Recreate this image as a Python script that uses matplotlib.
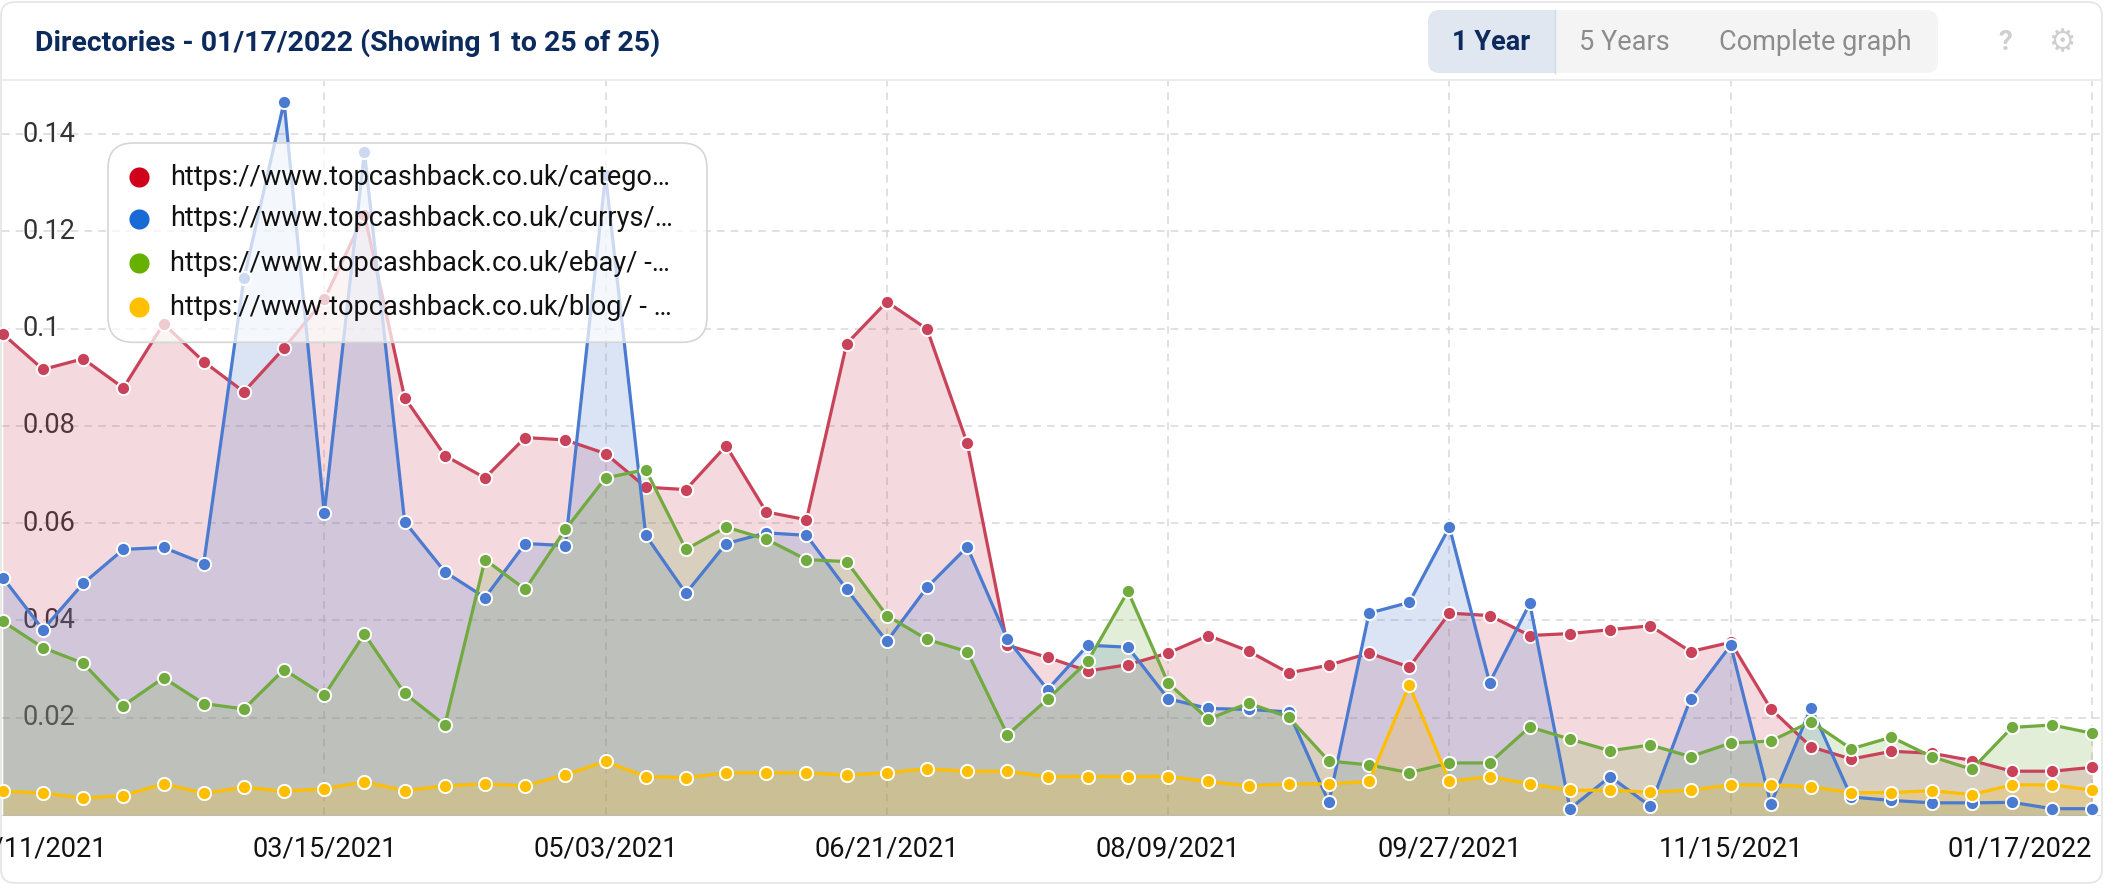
import numpy as np
import matplotlib.pyplot as plt
from matplotlib.patches import FancyBboxPatch, Rectangle
from matplotlib.lines import Line2D
from matplotlib.transforms import IdentityTransform, blended_transform_factory

plt.rcParams["font.family"] = ["Roboto", "DejaVu Sans"]

# weekly share values per directory (53 weeks)
red_vals = [0.0989, 0.0916, 0.0938, 0.0878, 0.101, 0.0932, 0.0870, 0.096, 0.106, 0.1234, 0.0858, 0.0739, 0.0693, 0.0776,
            0.0771, 0.0743, 0.0674, 0.0669, 0.0759, 0.0623, 0.0607, 0.0969, 0.1055, 0.0999, 0.0764, 0.0349, 0.0324,
            0.0296, 0.0309, 0.0333, 0.0369, 0.0337, 0.0292, 0.0308, 0.0333, 0.0304, 0.0415, 0.041, 0.0369, 0.0373,
            0.0381, 0.0389, 0.0336, 0.0355, 0.0218, 0.014, 0.0115, 0.0131, 0.0127, 0.0112, 0.009, 0.009, 0.0098]
blue_vals = [0.0488, 0.0381, 0.0476, 0.0546, 0.055, 0.0517, 0.1103, 0.1466, 0.0621, 0.1363, 0.0603, 0.0500, 0.0447, 0.0558,
             0.0554, 0.1316, 0.0575, 0.0456, 0.0558, 0.058, 0.0575, 0.0464, 0.0357, 0.0468, 0.0551, 0.0361, 0.0258,
             0.0349, 0.0345, 0.0239, 0.0219, 0.0217, 0.0212, 0.0026, 0.0415, 0.0437, 0.0592, 0.0272, 0.0435, 0.0013,
             0.0079, 0.0018, 0.0239, 0.0349, 0.0023, 0.0221, 0.0037, 0.003, 0.0025, 0.0025, 0.0026, 0.0013, 0.0013]
green_vals = [0.0398, 0.0344, 0.0312, 0.0225, 0.0282, 0.0229, 0.0218, 0.0299, 0.0246, 0.0372, 0.0250, 0.0185, 0.0525, 0.0464,
              0.0587, 0.0693, 0.071, 0.0546, 0.0592, 0.0567, 0.0525, 0.0521, 0.041, 0.0361, 0.0336, 0.0165, 0.0238,
              0.0316, 0.046, 0.0271, 0.0197, 0.023, 0.0201, 0.0111, 0.0103, 0.0087, 0.0107, 0.0107, 0.0181, 0.0156,
              0.0132, 0.0144, 0.012, 0.0148, 0.0152, 0.0192, 0.0136, 0.016, 0.012, 0.0094, 0.018, 0.0185, 0.0168]
yellow_vals = [0.0049, 0.0045, 0.0035, 0.004, 0.0064, 0.0045, 0.0057, 0.0049, 0.0054, 0.0068, 0.005, 0.006, 0.0064, 0.006,
               0.0083, 0.011, 0.0079, 0.0077, 0.0087, 0.0087, 0.0087, 0.0082, 0.0087, 0.0095, 0.009, 0.009, 0.0079,
               0.0079, 0.0079, 0.0079, 0.0069, 0.006, 0.0064, 0.0064, 0.0069, 0.0267, 0.0069, 0.0079, 0.0064, 0.0051,
               0.0051, 0.0047, 0.0051, 0.0062, 0.0062, 0.0058, 0.0046, 0.0046, 0.005, 0.0042, 0.0062, 0.0062, 0.0051]

series_labels = [
    "https://www.topcashback.co.uk/catego…",
    "https://www.topcashback.co.uk/currys/…",
    "https://www.topcashback.co.uk/ebay/ -…",
    "https://www.topcashback.co.uk/blog/ - …",
]
line_colors = ["#c8435a", "#4a7bd0", "#71ab3f", "#ffbe00"]
legend_colors = ["#d0021b", "#1a6ad6", "#66b000", "#ffc000"]

tick_pos = [0, 8, 15, 22, 29, 36, 43, 52]
tick_labels = ["01/11/2021", "03/15/2021", "05/03/2021", "06/21/2021",
               "08/09/2021", "09/27/2021", "11/15/2021", "01/17/2022"]
y_ticks = [0.02, 0.04, 0.06, 0.08, 0.10, 0.12, 0.14]
y_tick_labels = ["0.02", "0.04", "0.06", "0.08", "0.1", "0.12", "0.14"]

W, H = 2104, 884
fig = plt.figure(figsize=(W / 100, H / 100), dpi=100)
px = IdentityTransform()

# card frame + header
fig.patches.append(FancyBboxPatch((1, 1), W - 3, H - 3, boxstyle="round,pad=0,rounding_size=14",
                                  fc="none", ec="#e4e4e4", lw=1.2, transform=px, zorder=-1))
fig.add_artist(Line2D([2, W - 3], [H - 80, H - 80], color="#ececec", lw=1.5, transform=px))
fig.text(35 / W, 1 - 43 / H, "Directories - 01/17/2022 (Showing 1 to 25 of 25)", fontsize=20.5,
         fontweight="bold", color="#0d2a5c", ha="left", va="center")

# period buttons
fig.patches.append(FancyBboxPatch((1428, H - 73), 510, 63, boxstyle="round,pad=0,rounding_size=12",
                                  fc="#f4f4f4", ec="none", transform=px))
fig.patches.append(FancyBboxPatch((1428, H - 73), 127, 63, boxstyle="round,pad=0,rounding_size=12",
                                  fc="#e0e7f1", ec="none", transform=px))
fig.patches.append(Rectangle((1520, H - 73), 35, 63, fc="#e0e7f1", ec="none", transform=px))
fig.add_artist(Line2D([1555, 1555], [H - 73, H - 10], color="#d3dbe6", lw=1, transform=px))
fig.text(1491 / W, 1 - 43 / H, "1 Year", fontsize=19.5, fontweight="bold", color="#0d2a5c", ha="center", va="center")
fig.text(1624 / W, 1 - 43 / H, "5 Years", fontsize=19.5, color="#8c8c8c", ha="center", va="center")
fig.text(1815 / W, 1 - 43 / H, "Complete graph", fontsize=19.5, color="#8c8c8c", ha="center", va="center")
fig.text(2005 / W, 1 - 43 / H, "?", fontsize=20, fontweight="bold", color="#cfcfcf", ha="center", va="center")
fig.text(2062 / W, 1 - 43 / H, "\u2699", fontsize=22, color="#cfcfcf", ha="center", va="center",
         family="DejaVu Sans")

# plot area
ax = fig.add_axes([2 / W, (H - 815) / H, 2098 / W, 734 / H])
ax.set_facecolor("none")
x = np.arange(len(red_vals))
ax.set_xlim(-0.02, 52.19)
ax.set_ylim(0, 0.1509)

all_vals = [red_vals, blue_vals, green_vals, yellow_vals]
for k, (vals, col) in enumerate(zip(all_vals, line_colors)):
    # areas stacked in series order, lines/markers kept above every area
    ax.fill_between(x, vals, 0, color=col, alpha=0.2, lw=0, zorder=3 + k)
    ax.plot(x, vals, color=col, lw=2.3, marker="o", ms=9.5, mfc=col, mec="white", mew=1.4,
            zorder=10 + k, clip_on=False)

ax.set_yticks(y_ticks)
ax.set_xticks(tick_pos[1:])
ax.grid(True, color="#d9d9d9", lw=1.1, linestyle=(0, (5, 4)), zorder=1)
ax.tick_params(left=False, bottom=False, labelleft=False, labelbottom=False)
for s in ["top", "right", "left"]:
    ax.spines[s].set_visible(False)
ax.spines["bottom"].set_color("#ccd6eb")
ax.spines["bottom"].set_zorder(2)

ytr = blended_transform_factory(ax.transAxes, ax.transData)
for v, lab in zip(y_ticks, y_tick_labels):
    ax.text(0.010, v, lab, transform=ytr, fontsize=19.5, color="#333333", ha="left", va="center", zorder=2)

xtr = blended_transform_factory(ax.transData, ax.transAxes)
for i, (p, lab) in enumerate(zip(tick_pos, tick_labels)):
    if i == 0:
        ax.text(2.6, -0.047, lab, transform=xtr, fontsize=19.5, color="#111111", ha="right", va="center",
                clip_on=False)
    elif i == len(tick_pos) - 1:
        ax.text(p, -0.047, lab, transform=xtr, fontsize=19.5, color="#111111", ha="right", va="center",
                clip_on=False)
    else:
        ax.text(p, -0.047, lab, transform=xtr, fontsize=19.5, color="#111111", ha="center", va="center",
                clip_on=False)

# legend box drawn by hand (Highcharts style)
box = FancyBboxPatch((106 / 2098, 0.644), 599 / 2098, 0.2715, boxstyle="round,pad=0,rounding_size=0.012",
                     transform=ax.transAxes, fc=(1, 1, 1, 0.72), ec="#d6d6d6", lw=1.2, zorder=30,
                     mutation_aspect=2098 / 734)
ax.add_patch(box)
row_y = [0.869, 0.812, 0.752, 0.692]
for ry, col, lab in zip(row_y, legend_colors, series_labels):
    ax.plot([137 / 2098], [ry], transform=ax.transAxes, marker="o", ms=14.5, color=col, mec="none",
            zorder=31, clip_on=False)
    ax.text(168 / 2098, ry, lab, transform=ax.transAxes, fontsize=19.5, color="#111111",
            ha="left", va="center", zorder=31)

fig.savefig("out.png", dpi=100)
